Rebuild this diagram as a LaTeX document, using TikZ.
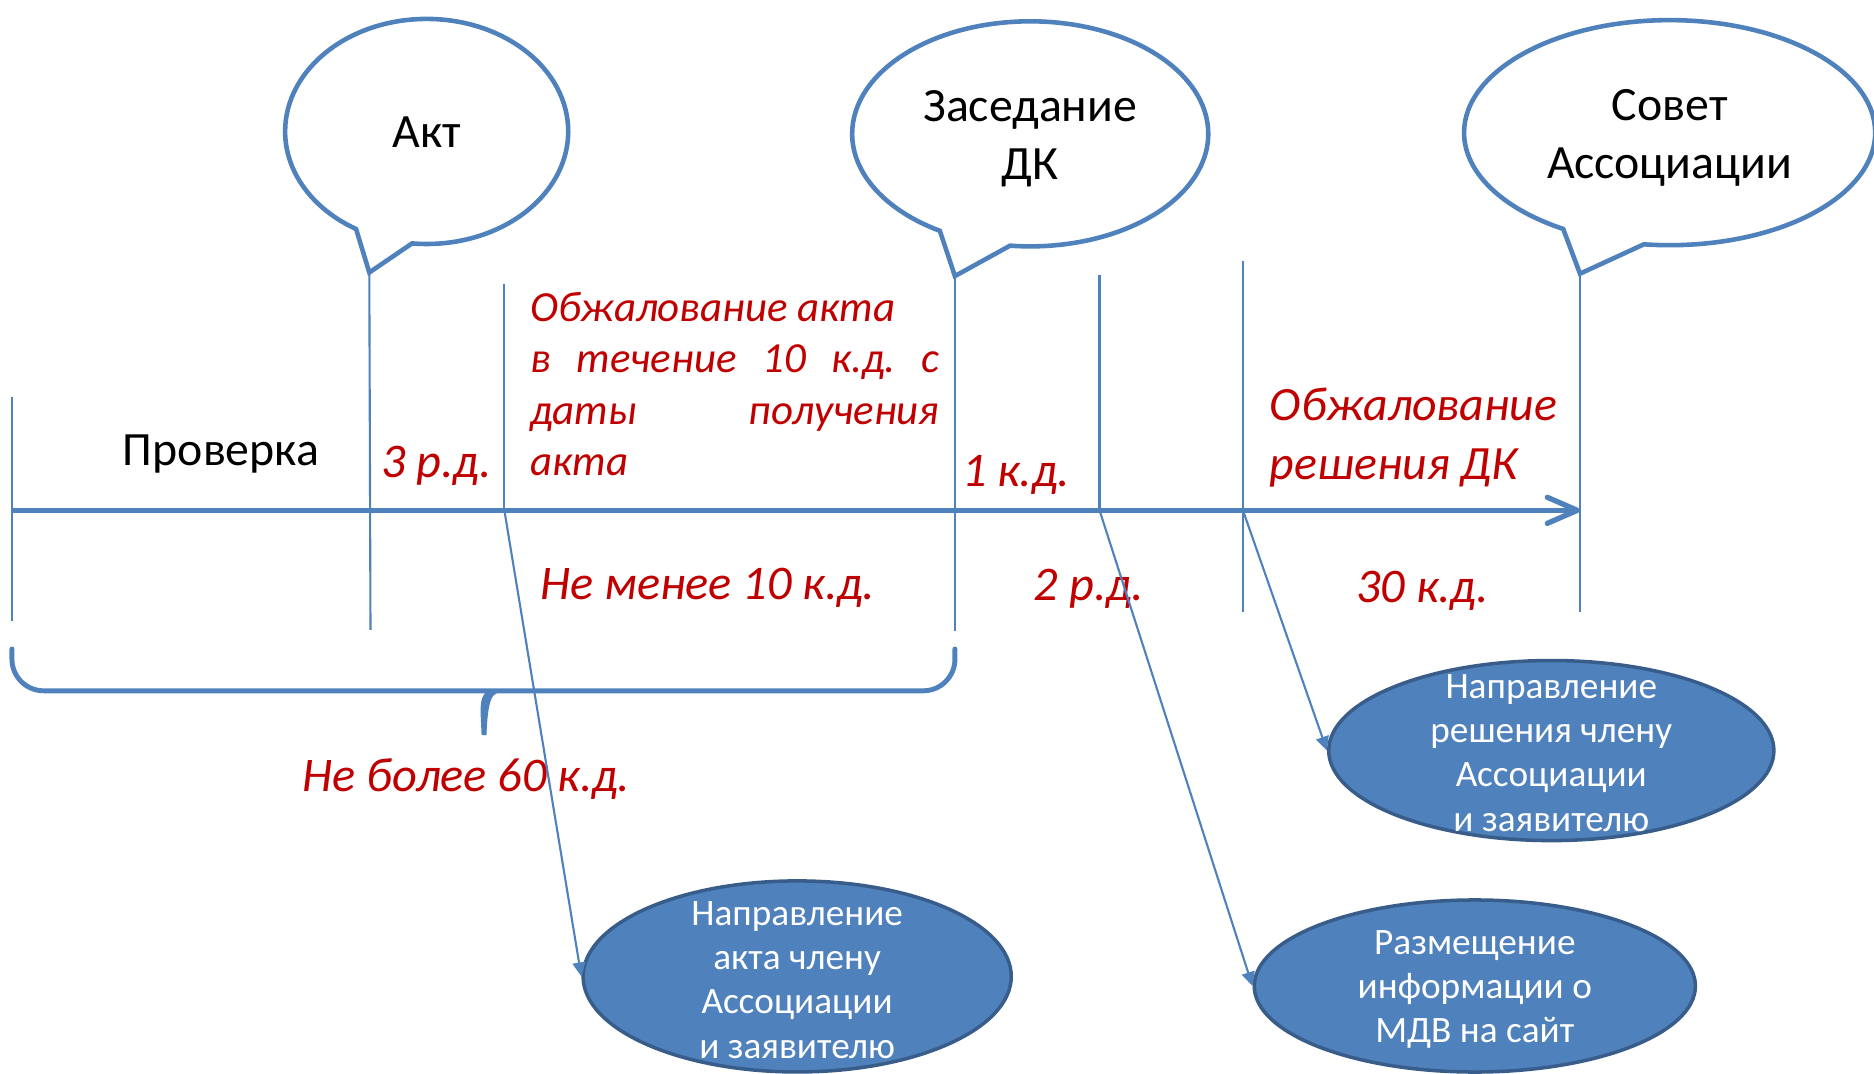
\documentclass[tikz,border=0pt]{standalone}
\usepackage{fontspec}
\setmainfont{Carlito}
\frenchspacing
\usetikzlibrary{shapes.geometric, shapes.callouts, arrows.meta}
\definecolor{slideblue}{HTML}{4F81BD}
\definecolor{slidedark}{HTML}{385D8A}
\definecolor{slidered}{HTML}{C00000}

\begin{document}
\begin{tikzpicture}[
    x=0.011952cm, y=-0.011952cm,
    bubble/.style={ellipse callout, draw=slideblue, line width=1.3pt, fill=white, inner sep=0pt,
        callout pointer arc=24, minimum height=2.25cm},
    plain/.style={align=center, font=\fontsize{13.6}{16.5}\selectfont},
    term/.style={text=slidered, font=\fontsize{13.75}{15}\selectfont\itshape},
    oval/.style={ellipse, draw=slidedark, line width=1pt, fill=slideblue},
    ovaltext/.style={text=white, align=center, font=\fontsize{10.6}{12.6}\selectfont},
    tick/.style={slideblue, line width=0.6pt},
    axis/.style={slideblue, line width=1.5pt, -{Straight Barb[length=3mm, width=2.6mm, round]}},
    link/.style={slideblue, line width=0.6pt, -{Triangle[length=1.4mm, width=1.3mm]}}
]
    \useasboundingbox (0,0) rectangle (1568,898);

    % Timeline points
    \coordinate (t0) at (10,427);
    \coordinate (tEnd) at (1322,427);
    \coordinate (aktTip) at (309,228);
    \coordinate (dkTip) at (799,231);
    \coordinate (sovTip) at (1322,229);
    \coordinate (s1) at (422,427);
    \coordinate (s2) at (920,427);
    \coordinate (s3) at (1040,427);

    % Bubbles
    \node[bubble, minimum width=2.83cm, callout absolute pointer=(aktTip)] (akt) at (357,110) {};
    \node[plain] (aktText) at (357,111) {Акт};
    \node[bubble, minimum width=3.56cm, callout absolute pointer=(dkTip)] (dk) at (862,112) {};
    \node[plain] (dkText) at (862,116) {Заседание\\ДК};
    \node[bubble, minimum width=4.11cm, callout absolute pointer=(sovTip)] (sov) at (1397,111) {};
    \node[plain] (sovText) at (1397,115) {Совет\\Ассоциации};

    % Periods
    \node[plain] (check) at (185,380) {Проверка};
    \node[term] (d3) at (365,390) {3 р.д.};
    \node[text=slidered, font=\fontsize{12.2}{14.6}\selectfont\itshape, text width=4.09cm, align=justify,
        inner sep=0pt, anchor=north west] (appeal1) at (443,244)
        {Обжалование акта\\ в течение 10 к.д. с\linebreak даты получения\linebreak акта};
    \node[term] (d1) at (850,397) {1 к.д.};
    \node[text=slidered, font=\fontsize{13.6}{16.7}\selectfont\itshape, align=left,
        inner sep=0pt, anchor=north west] (appeal2) at (1062,324) {Обжалование\\решения ДК};
    \node[term] (min10) at (592,492) {Не менее 10 к.д.};
    \node[term] (d2) at (911,493) {2 р.д.};
    \node[term] (d30) at (1190,494) {30 к.д.};
    \node[term] (max60) at (390,652) {Не более 60 к.д.};

    % Ticks
    \draw[tick] (10,332) -- (10,520);
    \draw[tick] (aktTip) -- (310,527);
    \draw[tick] (s1) -- (422,238);
    \draw[tick] (dkTip) -- (799,528);
    \draw[tick] (s2) -- (920,230);
    \draw[tick] (1040,218) -- (1040,512);
    \draw[tick] (sovTip) -- (1322,512);

    % Timeline
    \draw[axis] (t0) -- (tEnd);

    % Brace
    \draw[slideblue, line width=1.4pt, line cap=round]
        (10,543) [rounded corners=9] -- (10,578) -- (393,578) [sharp corners]
        .. controls (401,578) and (404,588) .. (405,615)
        .. controls (406,588) and (409,578) .. (417,578) [rounded corners=9] -- (799,578) -- (799,543);

    % Results
    \node[oval, minimum width=4.28cm, minimum height=1.91cm] (e1) at (667,817) {};
    \node[ovaltext] (e1text) at (667,820) {Направление\\акта члену\\Ассоциации\\и заявителю};
    \node[oval, minimum width=4.45cm, minimum height=1.80cm] (e2) at (1298,628) {};
    \node[ovaltext] (e2text) at (1298,630) {Направление\\решения члену\\Ассоциации\\и заявителю};
    \node[oval, minimum width=4.41cm, minimum height=1.72cm] (e3) at (1234,825) {};
    \node[ovaltext] (e3text) at (1234,828) {Размещение\\информации о\\МДВ на сайт};

    % Arrows
    \draw[link] (s1) -- (e1.west);
    \draw[link] (s2) -- (e3.west);
    \draw[link] (s3) -- (e2.west);
\end{tikzpicture}
\end{document}
